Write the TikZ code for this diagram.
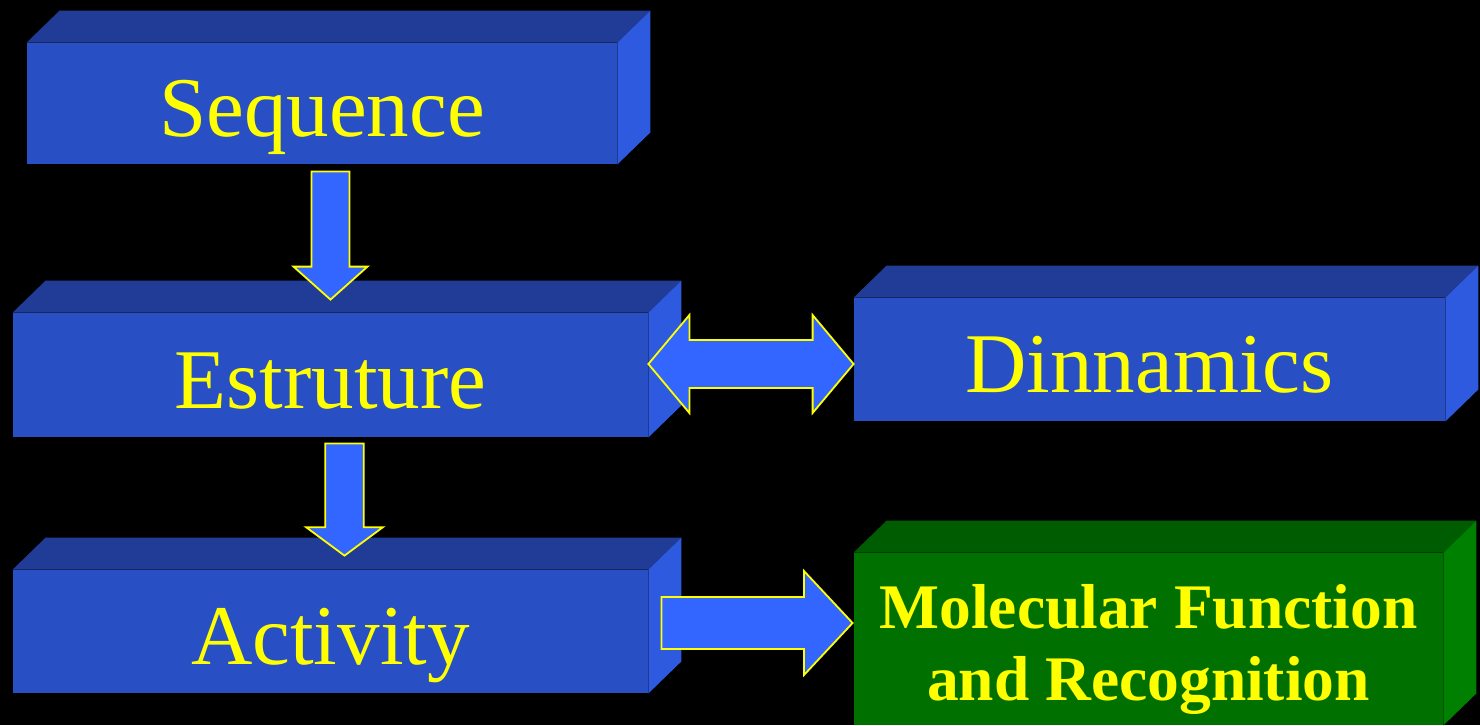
\documentclass[tikz,border=0pt]{standalone}
\usepackage{fontspec}
\setmainfont{Liberation Serif}
\usetikzlibrary{calc}

\definecolor{bluefront}{RGB}{40,80,196}
\definecolor{bluetop}{RGB}{32,60,150}
\definecolor{blueside}{RGB}{45,90,222}
\definecolor{arrowblue}{RGB}{51,102,255}
\definecolor{greenfront}{RGB}{0,112,0}
\definecolor{greentop}{RGB}{0,92,0}
\definecolor{greenside}{RGB}{0,128,0}
\definecolor{labelyellow}{RGB}{255,255,0}

% top and right faces of a box node
\newcommand{\boxfaces}[3]{%
  \fill[#2] (#1.north west) -- ++(33,-32) -- ($(#1.north east)+(33,-32)$) -- (#1.north east) -- cycle;
  \fill[#3] (#1.north east) -- ++(33,-32) -- ($(#1.south east)+(33,-32)$) -- (#1.south east) -- cycle;
}
% tail, tip, shaft half width, head half width, head length
\newcommand{\blockarrow}[5]{%
  \coordinate (hb) at ($(#2)!#5!(#1)$);
  \draw[arrowbody] ($(#1)!#3!90:(#2)$) -- ($(hb)!#3!90:(#2)$) -- ($(hb)!#4!90:(#2)$) -- (#2)
    -- ($(hb)!#4!-90:(#2)$) -- ($(hb)!#3!-90:(#2)$) -- ($(#1)!#3!-90:(#2)$) -- cycle;
}
% tip, tip, shaft half width, head half width, head length
\newcommand{\doublearrow}[5]{%
  \coordinate (ha) at ($(#1)!#5!(#2)$);
  \coordinate (hb) at ($(#2)!#5!(#1)$);
  \draw[arrowbody] (#1) -- ($(ha)!#4!90:(#2)$) -- ($(ha)!#3!90:(#2)$) -- ($(hb)!#3!90:(#2)$)
    -- ($(hb)!#4!90:(#2)$) -- (#2) -- ($(hb)!#4!-90:(#2)$) -- ($(hb)!#3!-90:(#2)$)
    -- ($(ha)!#3!-90:(#2)$) -- ($(ha)!#4!-90:(#2)$) -- cycle;
}

\begin{document}
\begin{tikzpicture}[x=0.5pt, y=-0.5pt,
  face/.style={fill=bluefront, text=labelyellow, inner sep=0pt, text height=33pt, text depth=0pt,
    font=\fontsize{42.5}{50}\selectfont},
  arrowbody/.style={fill=arrowblue, draw=labelyellow, line width=0.9pt, line join=miter}]
  \fill[black] (0,0) rectangle (1480,725);
  \useasboundingbox (0,0) rectangle (1480,725);

  % boxes
  \node[face, minimum width=295pt, minimum height=60.5pt] (seq) at (322,103.5) {Sequence};
  \node[face, minimum width=317.5pt, minimum height=62pt] (est) at (330.5,375) {Estruture};
  \node[face, minimum width=295.5pt, minimum height=61.5pt] (dyn) at (1149.5,359.5) {Dinnamics};
  \node[face, minimum width=317.5pt, minimum height=61.5pt] (act) at (330.5,631.5) {Activity};
  \node[face, fill=greenfront, minimum width=294.5pt, minimum height=86pt, align=center,
    text height=61pt, text depth=0pt, font=\bfseries\fontsize{31.75}{36}\selectfont]
    (mol) at (1148.5,639) {Molecular Function\\and Recognition};
  \boxfaces{seq}{bluetop}{blueside}
  \boxfaces{est}{bluetop}{blueside}
  \boxfaces{dyn}{bluetop}{blueside}
  \boxfaces{act}{bluetop}{blueside}
  \boxfaces{mol}{greentop}{greenside}

  % arrows
  \coordinate (s1) at ($(seq.south -| est.north)+(0,7)$);
  \coordinate (e1) at ($(est.north)+(0,-13)$);
  \blockarrow{s1}{e1}{9.5pt}{18.5pt}{16.5pt}
  \coordinate (s2) at ($(est.south)+(14,6)$);
  \coordinate (e2) at ($(act.north)+(14,-14)$);
  \blockarrow{s2}{e2}{9.6pt}{19.2pt}{14.2pt}
  \coordinate (s3) at ($(est.east)+(0,-11)$);
  \coordinate (e3) at ($(dyn.west)+(0,4.5)$);
  \doublearrow{s3}{e3}{12pt}{24.5pt}{20.5pt}
  \coordinate (s4) at ($(act.east)+(13,-8.5)$);
  \coordinate (e4) at ($(mol.west)+(-1,-16)$);
  \blockarrow{s4}{e4}{13pt}{26pt}{24.3pt}
\end{tikzpicture}
\end{document}
